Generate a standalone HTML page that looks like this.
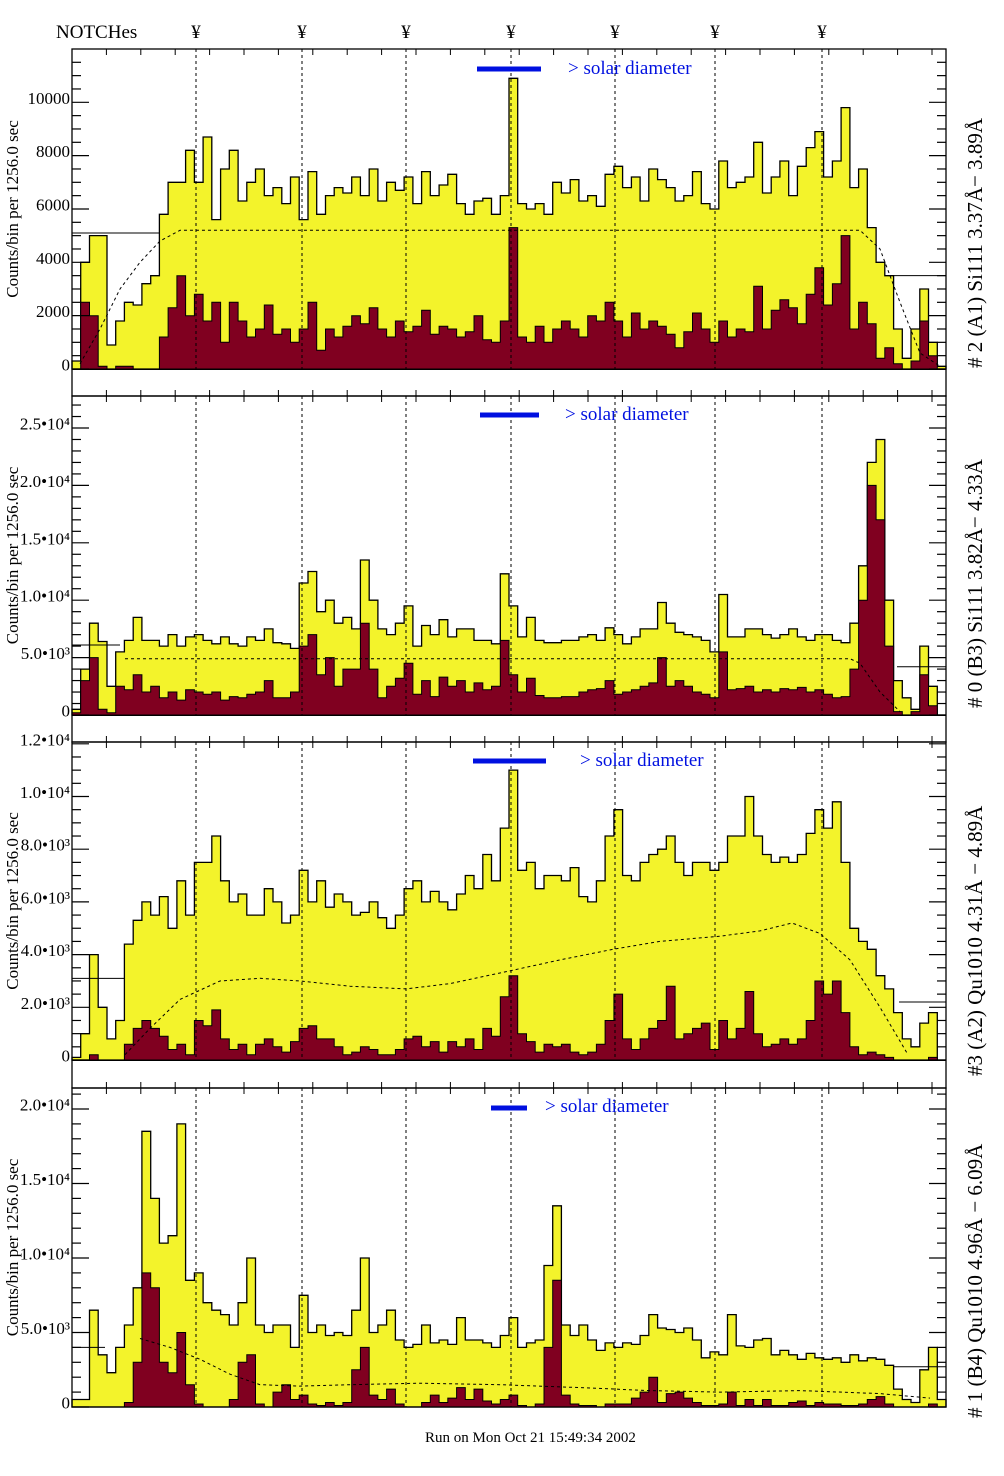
<!DOCTYPE html>
<html><head><meta charset="utf-8">
<style>
html,body{margin:0;padding:0;background:#fff;}
svg{display:block;font-family:"Liberation Serif","DejaVu Serif",serif;}
</style></head>
<body>
<svg id="chart" width="1004" height="1476" viewBox="0 0 1004 1476" xmlns="http://www.w3.org/2000/svg">
<text x="56" y="38" font-size="19">NOTCHes</text>
<g id="notchMarks"></g>
<g id="panels"></g>
<text x="425" y="1442" font-size="15">Run on Mon Oct 21 15:49:34 2002</text>
</svg>
<script>
// ---- data (thousands of counts per bin) ----
const notchX = [196, 302, 406, 511, 615, 715, 822];

const p1Total = [0.3,4,5,5,0.9,1.8,2.5,2.4,3.2,3.5, 5.8,7,7,8.2,7,8.7,5.6,7.5,8.2,6.3, 7,7.5,6.5,6.8,6.2,7.2,5.6,7.4,5.8,6.5, 6.8,6.6,7.2,6.5,7.5,6.3,7,6.7,7.2,6.2, 7.4,6.5,6.9,7.3,6.2,5.8,6.3,6.4,5.8,6.5, 10.9,6.2,6,6.2,5.8,7,6.6,7.1,6.3,6.5, 6.1,7.3,7.6,6.8,7.2,6.3,7.5,7.1,6.8,6.3, 6.5,7.4,6.2,6,7.8,6.8,7,7.2,8.5,6.6, 7.2,7.8,6.5,7.6,8.3,8.9,7.2,7.8,9.8,6.8, 7.5,5.3,4,3.5,1.5,0.4,1.5,3,1,0.1];
const p1Sub = [0,2.5,2,0.1,0,0.1,0.1,0,0,0, 1.2,2.3,3.5,2,2.8,1.8,2.5,1,2.5,1.8, 1.2,1.5,2.4,1.3,1.5,1,1.5,2.5,0.7,1.5, 1.2,1.6,2,1.7,2.3,1.5,1.2,1.8,1.4,1.6, 2.2,1.3,1.6,1.5,1.2,1.4,2,1.1,1,1.8, 5.3,1.2,1,1.6,1,1.5,1.8,1.5,1.2,2, 1.8,2.5,1.8,1.2,2.1,1.5,1.8,1.6,1.3,0.8, 1.4,2.1,1.5,1,1.8,1.2,1.5,1.4,3.1,1.5, 2.2,2.6,2.3,1.7,2.8,3.8,2.4,3.2,5,1.5, 2.5,1.7,0.4,0.8,0.2,0,0.3,1.8,0.5,0];
const p1ModelX = [80,100,120,140,160,180,860,880,900,920,940];
const p1ModelY = [0.2,1.5,3,4,4.8,5.2,5.2,4.5,2.5,0.6,0.1];
const p1Level = [5.1,3.5];

const p2Total = [0.5,4,8,6.4,2.5,5.5,6.5,8.5,6.5,6.5, 6,7,6,6.8,7,6.5,6.2,6.8,6.2,6, 6.8,6.5,7.5,6.3,6.2,5.8,11.5,12.5,9,10, 8,8.5,7.5,13.5,10,7.5,7,8,9.5,6, 7.8,7,8.3,6.8,7.5,7.5,6.5,6.5,6.2,12.3, 9.5,6.8,8.5,6.5,6.3,6.3,6.5,6.5,6.8,7, 6.5,7.6,7,6.2,6.8,7.5,7.5,9.8,8,7.2, 7,6.8,6.5,5.5,10.5,6.8,6.8,7.5,7.5,7, 6.7,7,7.5,6.8,6.5,7,7,6.5,6.3,8, 13,22,24,10,3,1.5,0.5,6,2.5,0];
const p2Sub = [0.2,3,5,0.5,0.2,2.5,2.2,3.5,2,2.5, 1.5,2,1.3,2.2,2,1.8,2,1.3,1.6,1.5, 1.8,2,3,1.5,1.5,2,6,7,3.5,5, 2.5,4,4,8,4,1.5,2.5,3.2,4.5,1.8, 3,1.6,3.3,2.5,3,2,2.8,2.2,2.5,6.5, 3.5,2,3.2,1.7,1.5,1.5,1.6,1.6,2,2.2, 2.3,3,1.8,2,2.2,2.5,2.8,5,2.5,3, 2.5,2,1.8,1.5,5.5,2.2,2.3,2.5,2,2.2, 2,2.3,2.2,2.4,2,2.2,1.8,1.5,1.6,4, 10,20,17,6,0.3,0,0.3,3.5,0.8,0];
const p2ModelX = [125,135,850,860,880,900];
const p2ModelY = [4.9,4.9,4.9,4.5,2,0.3];
const p2Level = [6.1,4.2];

const p3Total = [0.1,1,4,2,0.8,1.5,4.4,5.3,6,5.5, 6.2,5,6.8,5.5,7.5,7.5,8.5,6.8,6,6.3, 5.5,5.5,6.5,6,5.2,5.5,7.2,6,6.8,5.8, 6.3,6,5.5,5.6,6,5.4,5,5.5,6.5,6.8, 6,6.4,6,5.7,6.3,7,6.5,7.8,6.8,8.8, 11,7.2,7.5,6.5,7,7,6.8,7.3,6.2,6, 6.8,8.5,9.5,7,6.8,7.5,7.8,8,8.5,7.5, 7,7.5,7.5,7.2,7.5,8.5,8.5,10,8.5,7.8, 7.5,7.7,7.5,7.8,8.6,9.5,8.8,9.8,7.5,5, 4.5,4.2,3.2,2.7,1.8,0.8,0.5,1.4,1.8,0];
const p3Sub = [0,0,0.2,0,0,0,0.6,1.2,1.5,1.2, 0.9,0.4,0.6,0.2,1.5,1.3,1.9,0.8,0.4,0.6, 0.2,0.6,0.8,0.5,0.3,0.7,1.2,1.3,0.8,0.8, 0.5,0.2,0.3,0.5,0.4,0.2,0.2,0.4,0.8,0.9, 0.5,0.7,0.3,0.7,0.5,0.8,0.4,1.2,0.9,2.4, 3.2,1,0.7,0.3,0.6,0.5,0.6,0.3,0.2,0.3, 0.6,1.5,2.5,0.8,0.4,0.8,1.2,1.5,2.8,0.8, 1,1.2,1.4,0.4,1.5,0.8,1.2,2.6,1,0.5, 0.6,0.8,0.6,0.8,1.5,3,2.5,3,1.8,0.5, 0.2,0.3,0.2,0.1,0,0,0,0,0.1,0];
const p3ModelX = [125,150,180,220,260,300,350,406,450,500,560,613,660,720,760,792,820,850,880,908];
const p3ModelY = [0.2,1.2,2.3,3,3.1,3,2.8,2.7,2.9,3.3,3.8,4.2,4.5,4.7,4.9,5.2,4.8,3.8,2,0.2];
const p3Level = [3.1,2.2];

const p4Total = [0.5,0.5,6.5,3.5,2.3,4,5.5,8,18.5,14, 11,11.5,19,8.5,9,7,6.5,6.2,5.5,7, 10,5.5,5,5.5,5.5,4,7.5,5,5.5,4.8, 5,4.8,6.5,10,5,5.5,6.5,4.5,4,4.2, 5.5,4.3,4.5,4.2,6,4.5,4.5,4.3,4,4.8, 6,4,4.3,4.5,9.5,13.5,5.5,4.8,5.5,4.5, 3.8,4.3,4,4.3,4.2,4.8,6.2,5.3,5.2,5, 5.3,4.5,3.3,3.7,3.5,6.2,4.1,4,4.5,4.6, 3.5,3.8,3.5,3.2,3.6,3.3,3.2,3.3,3,3.5, 3.1,3.3,3.2,2.8,1.2,0.5,0.3,2.5,4,0.5];
const p4Sub = [0,0,0,0,0,0,0.3,3,9,8, 3,2.3,5,1.5,0.2,0,0,0,0.5,3, 3.5,0.2,0,1,1.5,0.5,0.8,0.2,0.1,0.3, 0.1,0.3,2.5,4,0.8,0.5,1.2,0.2,0,0, 0.3,0.8,0.3,0.6,1.3,0.5,1.2,0.4,0.2,0.5, 0.8,0.1,0,0.2,4,8.5,0.8,0.2,0.1,0.1, 0,0.2,0.2,0.2,0.6,1,2,0.3,0.9,1, 0.6,0.3,0.1,0.1,0.2,1,0.1,0.5,0.1,0.5, 0.1,0.1,0.3,0.4,0.1,0.3,0.2,0.2,0.1,0.1, 0.2,0.5,0.7,0.2,0,0,0,0,0.2,0];
const p4ModelX = [140,170,200,230,260,300,350,420,500,580,650,720,800,880,930];
const p4ModelY = [4.6,4,3.2,2.2,1.5,1.4,1.5,1.6,1.5,1.3,1.1,1,1.1,0.9,0.6];
const p4Level = [4,2.7];

const p1Ticks = ["0","2000","4000","6000","8000","10000"];
const p2Ticks = ["0","5.0•10³","1.0•10⁴","1.5•10⁴","2.0•10⁴","2.5•10⁴"];
const p3Ticks = ["0","2.0•10³","4.0•10³","6.0•10³","8.0•10³","1.0•10⁴","1.2•10⁴"];
const p4Ticks = ["0","5.0•10³","1.0•10⁴","1.5•10⁴","2.0•10⁴"];

const titles = ["# 2 (A1) Si111  3.37Å− 3.89Å","# 0 (B3) Si111  3.82Å− 4.33Å","#3 (A2) Qu1010  4.31Å − 4.89Å","# 1 (B4) Qu1010 4.96Å − 6.09Å"];

// ---- layout ----
const X0 = 72, X1 = 946;
const panels = [
 {top:49, bottom:396, base:369, ppk:26.67, step:2, minor:0.5, ticks:p1Ticks, tot:p1Total, sub:p1Sub, mx:p1ModelX, my:p1ModelY, lev:p1Level, lx:[72,160], rx:[890,946], bar:[477,541,69], stx:568, sty:74, tty:368},
 {top:396, bottom:742, base:715, ppk:11.48, step:5, minor:1, ticks:p2Ticks, tot:p2Total, sub:p2Sub, mx:p2ModelX, my:p2ModelY, lev:p2Level, lx:[72,120], rx:[897,946], bar:[480,539,415], stx:565, sty:420, tty:708},
 {top:742, bottom:1088, base:1060, ppk:26.35, step:2, minor:0.5, ticks:p3Ticks, tot:p3Total, sub:p3Sub, mx:p3ModelX, my:p3ModelY, lev:p3Level, lx:[72,124], rx:[899,946], bar:[473,546,761], stx:580, sty:766, tty:1076},
 {top:1088, bottom:1407, base:1407, ppk:14.9, step:5, minor:1, ticks:p4Ticks, tot:p4Total, sub:p4Sub, mx:p4ModelX, my:p4ModelY, lev:p4Level, lx:[72,105], rx:[893,946], bar:[491,527,1108], stx:545, sty:1112, tty:1418}
];
const NS = "http://www.w3.org/2000/svg";
function mk(tag, attrs, parent){ const e=document.createElementNS(NS,tag); for(const k in attrs) e.setAttribute(k,attrs[k]); parent.appendChild(e); return e; }

const nm = document.getElementById('notchMarks');
notchX.forEach(x=>{
  const t = mk('text',{x:x, y:38, 'font-size':19, 'text-anchor':'middle'}, nm);
  
  
  t.textContent = '¥';
});

const root = document.getElementById('panels');
panels.forEach((p, pi)=>{
  const g = mk('g',{}, root);
  
  
  const n = p.tot.length, bw = (X1-X0)/n;
  const xOf = i => X0 + i*bw;
  const yOf = v => Math.max(p.top, p.base - v*p.ppk);
  function stepPath(arr){
    let d = 'M'+X0+','+p.base;
    arr.forEach((v,i)=>{ const y=yOf(v).toFixed(1); d+=' L'+xOf(i).toFixed(1)+','+y+' L'+xOf(i+1).toFixed(1)+','+y; });
    d += ' L'+X1+','+p.base+' Z';
    return d;
  }
  const yp = mk('path',{d:stepPath(p.tot), fill:'#f3f32b', stroke:'#000', 'stroke-width':1.3}, g);
  
  
  const mp = mk('path',{d:stepPath(p.sub), fill:'#800020', stroke:'#000', 'stroke-width':1}, g);
  
  
  const md = p.mx.map((x,i)=>(i?'L':'M')+x+','+yOf(p.my[i]).toFixed(1)).join(' ');
  const mc = mk('path',{d:md, fill:'none', stroke:'#000', 'stroke-width':1, 'stroke-dasharray':'3,3'}, g);
  
  
  const l1 = mk('line',{x1:p.lx[0], x2:p.lx[1], y1:yOf(p.lev[0]), y2:yOf(p.lev[0]), stroke:'#000', 'stroke-width':1}, g);
  
  
  const l2 = mk('line',{x1:p.rx[0], x2:p.rx[1], y1:yOf(p.lev[1]), y2:yOf(p.lev[1]), stroke:'#000', 'stroke-width':1}, g);
  
  
  notchX.forEach(x=>{
    const l = mk('line',{x1:x, x2:x, y1:p.top, y2:p.base, stroke:'#000', 'stroke-width':1, 'stroke-dasharray':'3,3'}, g);
    
    
  });
  const fr = mk('rect',{x:X0, y:p.top, width:X1-X0, height:p.bottom-p.top, fill:'none', stroke:'#000', 'stroke-width':1.3}, g);
  
  
  if (p.base < p.bottom) mk('line',{x1:X0,x2:X1,y1:p.base+0.5,y2:p.base+0.5,stroke:'#000','stroke-width':1}, g);
  const maxV = (p.base - p.top)/p.ppk;
  for (let v=0; v<=maxV+1e-6; v+=p.minor){
    const major = Math.abs(v/p.step - Math.round(v/p.step))<1e-6;
    const len = major?17:9, y = p.base - v*p.ppk;
    mk('line',{x1:X0,x2:X0+len,y1:y,y2:y,stroke:'#000','stroke-width':1.2}, g);
    mk('line',{x1:X1-len,x2:X1,y1:y,y2:y,stroke:'#000','stroke-width':1.2}, g);
  }
  p.ticks.forEach((lab,i)=>{
    const t = mk('text',{x:70, y:(p.base - i*p.step*p.ppk - 4).toFixed(1), 'font-size':17, 'text-anchor':'end', 'dominant-baseline':'central'}, g);
    
    
    t.textContent = lab;
  });
  for (let x=X0+34.4; x<X1; x+=34.4){
    mk('line',{x1:x,x2:x,y1:p.top,y2:p.top+6,stroke:'#000','stroke-width':1}, g);
    if (p.base < p.bottom) mk('line',{x1:x,x2:x,y1:p.bottom-6,y2:p.bottom,stroke:'#000','stroke-width':1}, g);
  }
  const sb = mk('line',{x1:p.bar[0],x2:p.bar[1],y1:p.bar[2],y2:p.bar[2],stroke:'#0010e0','stroke-width':5}, g);
  
  
  const st = mk('text',{x:p.stx, y:p.sty, 'font-size':19, fill:'#0010e0'}, g);
  
  
  st.textContent = '> solar diameter';
  const cy = (p.top + p.base)/2;
  const yt = mk('text',{x:0, y:0, 'font-size':17, 'text-anchor':'middle', transform:'translate(18,'+cy+') rotate(-90)'}, g);
  
  
  yt.textContent = 'Counts/bin per   1256.0 sec';
  const rt = mk('text',{x:0, y:0, 'font-size':21, 'text-anchor':'start', transform:'translate(982,'+p.tty+') rotate(-90)'}, g);
  
  
  rt.textContent = titles[pi];
});
</script>
</body></html>
